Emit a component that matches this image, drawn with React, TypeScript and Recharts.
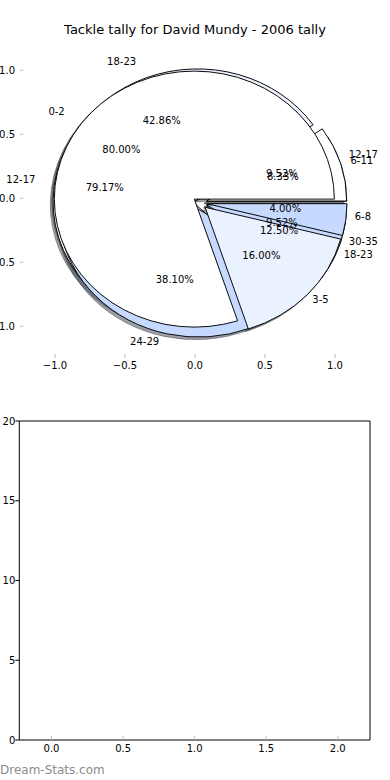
import React from 'react';
import { PieChart, Pie, Cell, ScatterChart, Scatter, XAxis, YAxis } from 'recharts';

// ---- data ----
const pieALabels = ['12-17', '18-23', '24-29', '30-35'];
const pieAValues = [2, 9, 8, 2];
const pieBLabels = ['6-11', '12-17', '18-23'];
const pieBValues = [2, 19, 3];
const pieCLabels = ['0-2', '3-5', '6-8'];
const pieCValues = [20, 4, 1];
const pieTicks = [-1, -0.5, 0, 0.5, 1];
const lowerXTicks = [0, 0.5, 1, 1.5, 2];
const lowerYTicks = [0, 5, 10, 15, 20];
const titleText = 'Tackle tally for David Mundy - 2006 tally';
const watermark = 'Dream-Stats.com';

// ---- style ----
const WHITE = '#ffffff';
const PALE = '#ebf2ff';
const LIGHT = '#c6d9ff';
const pieAColors = [WHITE, PALE, LIGHT, LIGHT];
const pieBColors = [WHITE, PALE, LIGHT];
const pieCColors = [WHITE, PALE, LIGHT];
const EXPLODE = 0.05;
const UNIT_X = 140;
const UNIT_Y = 128;
const SY = UNIT_Y / UNIT_X;
const CX = 195;
const CY_SCREEN = 198.3;
const CY = CY_SCREEN / SY;
const FONT = 'DejaVu Sans, sans-serif';
const TICK_GREY = '#bbbbbb';

// drawing order: B underneath, then A, then C on top
const pies = [
  { labels: pieBLabels, values: pieBValues, colors: pieBColors },
  { labels: pieALabels, values: pieAValues, colors: pieAColors },
  { labels: pieCLabels, values: pieCValues, colors: pieCColors },
];

type Wedge = { pie: number; idx: number; mid: number; color: string; pct: number; label: string };

const pieData = pies.map((p) => p.labels.map((l, i) => ({ name: l, value: p.values[i] })));

const wedges: Wedge[] = [];
pies.forEach((p, pi) => {
  const total = p.values.reduce((a, b) => a + b, 0);
  let cum = 0;
  p.values.forEach((v, i) => {
    const mid = ((cum + v / 2) / total) * 360;
    cum += v;
    wedges.push({
      pie: pi,
      idx: i,
      mid,
      color: p.colors[i % p.colors.length],
      pct: (v / total) * 100,
      label: p.labels[i],
    });
  });
});

const labelPoints = wedges.flatMap((w) => {
  const r = (w.mid * Math.PI) / 180;
  const c = Math.cos(r);
  const s = Math.sin(r);
  return [
    { x: (1.1 + EXPLODE) * c, y: (1.1 + EXPLODE) * s, text: w.label, anchor: c > 0 ? 'start' : 'end' },
    { x: (0.6 + EXPLODE) * c, y: (0.6 + EXPLODE) * s, text: w.pct.toFixed(2) + '%', anchor: 'middle' },
  ];
});

const shade = (hex: string) => {
  const n = parseInt(hex.slice(1), 16);
  const r = Math.round(((n >> 16) & 255) * 0.3);
  const g = Math.round(((n >> 8) & 255) * 0.3);
  const b = Math.round((n & 255) * 0.3);
  return `rgba(${r},${g},${b},0.5)`;
};

const fmt = (v: number) => v.toFixed(1).replace('-', '\u2212');

const renderLabel = (props: any) => {
  const { cx, cy, payload } = props;
  if (cx == null || cy == null) return <g />;
  return (
    <text
      x={cx}
      y={cy}
      textAnchor={payload.anchor}
      dominantBaseline="central"
      fontSize={10}
      fontFamily={FONT}
      fill="#000"
    >
      {payload.text}
    </text>
  );
};

const renderWedgePie = (w: Wedge, shadow: boolean, key: string) => {
  const r = (w.mid * Math.PI) / 180;
  const dx = UNIT_X * EXPLODE * Math.cos(r) + (shadow ? -0.02 * UNIT_X : 0);
  const dy = -UNIT_X * EXPLODE * Math.sin(r) + (shadow ? 0.02 * UNIT_X : 0);
  const data = pieData[w.pie];
  const col = shadow ? shade(w.color) : w.color;
  const edge = shadow ? shade(w.color) : '#000000';
  return (
    <Pie
      key={key}
      data={data}
      dataKey="value"
      cx={CX + dx}
      cy={CY + dy}
      innerRadius={0}
      outerRadius={UNIT_X}
      startAngle={0}
      endAngle={360}
      isAnimationActive={false}
      stroke="none"
      legendType="none"
    >
      {data.map((d, j) => (
        <Cell
          key={d.name + j}
          fill={j === w.idx ? col : 'none'}
          stroke={j === w.idx ? edge : 'none'}
          strokeWidth={1}
        />
      ))}
    </Pie>
  );
};

export default function App() {
  return (
    <div style={{ position: 'absolute', left: 0, top: 0, width: 390, height: 780, background: '#fff', overflow: 'hidden' }}>
      <div
        style={{
          position: 'absolute',
          left: 0,
          top: 21,
          width: 390,
          textAlign: 'center',
          fontFamily: FONT,
          fontSize: 13,
          lineHeight: '18px',
          color: '#000',
        }}
      >
        {titleText}
      </div>

      <div style={{ position: 'absolute', left: 0, top: 0, width: 390, height: 440, transform: `scaleY(${SY})`, transformOrigin: '0 0' }}>
        <PieChart width={390} height={440}>
          {wedges.map((w, k) => renderWedgePie(w, true, 's' + k))}
          {wedges.map((w, k) => renderWedgePie(w, false, 'w' + k))}
        </PieChart>
      </div>

      <div style={{ position: 'absolute', left: 0, top: 0 }}>
        <ScatterChart width={390} height={380} margin={{ top: 37.3, right: 19, bottom: 0, left: 0 }}>
          <XAxis
            xAxisId="b"
            type="number"
            dataKey="x"
            domain={[-1.25, 1.25]}
            ticks={pieTicks}
            orientation="bottom"
            height={21.7}
            axisLine={false}
            tickSize={-4}
            tickMargin={7.2}
            tickLine={{ stroke: TICK_GREY }}
            tick={{ fontSize: 10, fill: '#000', fontFamily: FONT }}
            tickFormatter={fmt}
            interval={0}
          />
          <XAxis
            xAxisId="t"
            type="number"
            dataKey="x"
            domain={[-1.25, 1.25]}
            ticks={pieTicks}
            orientation="top"
            height={1}
            axisLine={false}
            tickSize={-4}
            tickLine={{ stroke: TICK_GREY }}
            tick={false}
            allowDataOverflow
            interval={0}
          />
          <YAxis
            yAxisId="l"
            type="number"
            dataKey="y"
            domain={[-1.25, 1.25]}
            ticks={pieTicks}
            orientation="left"
            width={20}
            axisLine={false}
            tickSize={-3}
            tickMargin={8}
            tickLine={{ stroke: TICK_GREY }}
            tick={{ fontSize: 10, fill: '#000', fontFamily: FONT }}
            tickFormatter={fmt}
            interval={0}
          />
          <YAxis
            yAxisId="r"
            type="number"
            dataKey="y"
            domain={[-1.25, 1.25]}
            ticks={pieTicks}
            orientation="right"
            width={1}
            axisLine={false}
            tickSize={-4}
            tickLine={{ stroke: TICK_GREY }}
            tick={false}
            allowDataOverflow
            interval={0}
          />
          <Scatter xAxisId="t" yAxisId="r" data={[]} isAnimationActive={false} />
          <Scatter xAxisId="b" yAxisId="l" data={labelPoints} shape={renderLabel} isAnimationActive={false} />
        </ScatterChart>
      </div>

      <div style={{ position: 'absolute', left: 0, top: 400 }}>
        <ScatterChart width={390} height={360} margin={{ top: 20, right: 19, bottom: 0, left: 0 }}>
          <XAxis
            xAxisId="b"
            type="number"
            dataKey="x"
            domain={[-0.225, 2.225]}
            ticks={lowerXTicks}
            orientation="bottom"
            height={20}
            axisLine={{ stroke: '#000' }}
            tickSize={-4}
            tickMargin={8.5}
            tickLine={{ stroke: TICK_GREY }}
            tick={{ fontSize: 10, fill: '#000', fontFamily: FONT }}
            tickFormatter={fmt}
            allowDataOverflow
            interval={0}
          />
          <XAxis
            xAxisId="t"
            type="number"
            dataKey="x"
            domain={[-0.225, 2.225]}
            ticks={lowerXTicks}
            orientation="top"
            height={1}
            axisLine={{ stroke: '#000' }}
            tickSize={-4}
            tickLine={{ stroke: TICK_GREY }}
            tick={false}
            allowDataOverflow
            interval={0}
          />
          <YAxis
            yAxisId="l"
            type="number"
            dataKey="y"
            domain={[0, 20]}
            ticks={lowerYTicks}
            orientation="left"
            width={19.3}
            axisLine={{ stroke: '#000' }}
            tickSize={4}
            tickMargin={0}
            tickLine={{ stroke: '#000' }}
            tick={{ fontSize: 10, fill: '#000', fontFamily: FONT }}
            allowDataOverflow
            interval={0}
          />
          <YAxis
            yAxisId="r"
            type="number"
            dataKey="y"
            domain={[0, 20]}
            ticks={lowerYTicks}
            orientation="right"
            width={1}
            axisLine={{ stroke: '#000' }}
            tickSize={-4}
            tickLine={{ stroke: TICK_GREY }}
            tick={false}
            allowDataOverflow
            interval={0}
          />
          <Scatter xAxisId="b" yAxisId="l" data={[]} isAnimationActive={false} />
          <Scatter xAxisId="t" yAxisId="r" data={[]} isAnimationActive={false} />
        </ScatterChart>
      </div>

      <div
        style={{
          position: 'absolute',
          left: 0,
          top: 762,
          fontFamily: FONT,
          fontSize: 12,
          lineHeight: '16px',
          color: '#8c8c8c',
        }}
      >
        {watermark}
      </div>
    </div>
  );
}
